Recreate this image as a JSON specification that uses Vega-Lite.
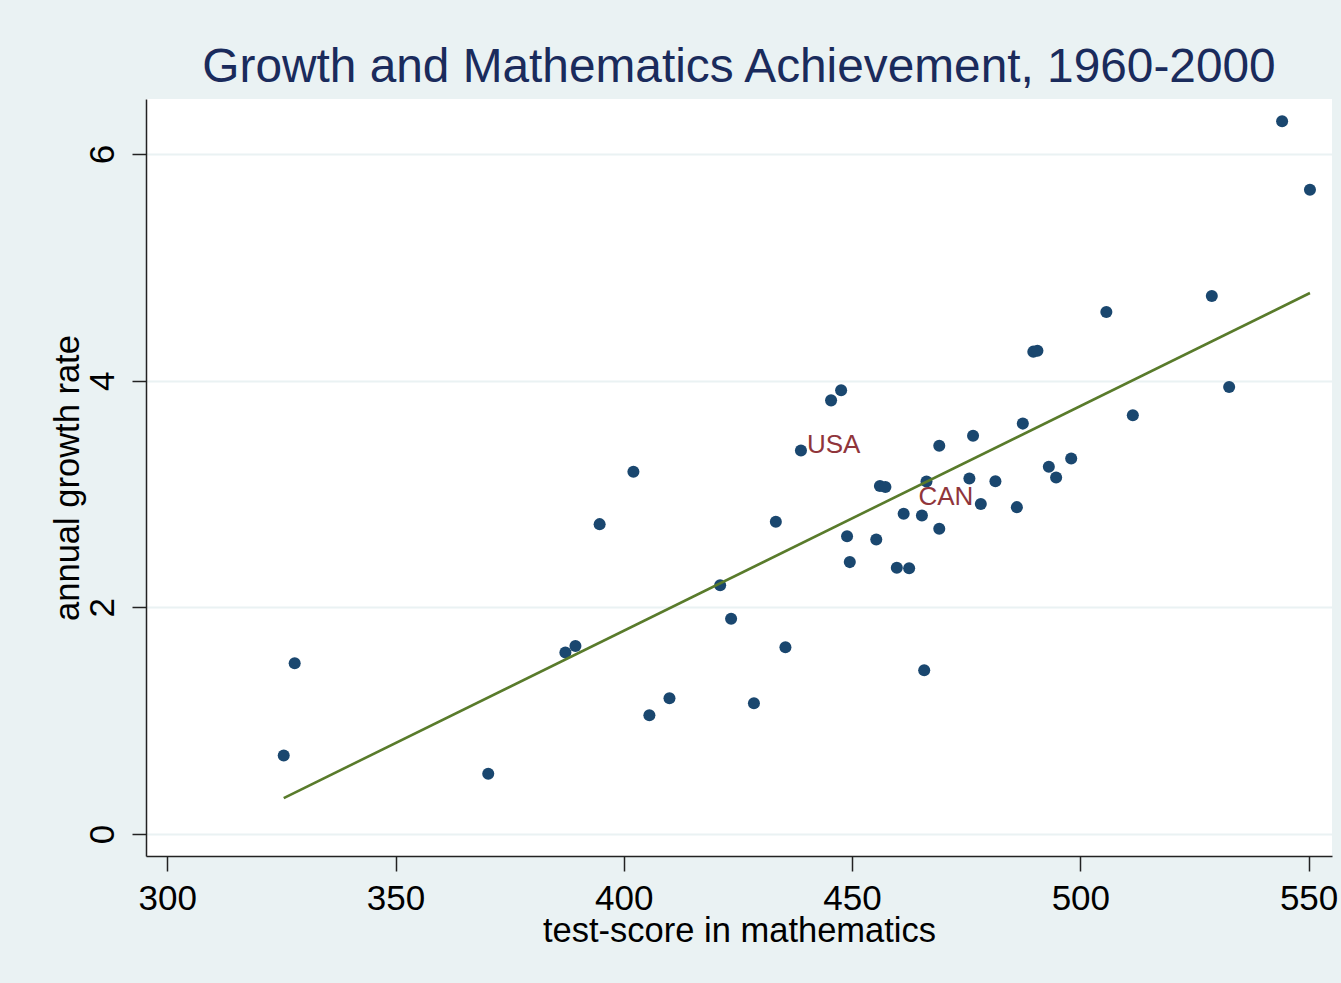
{
  "$schema": "https://vega.github.io/schema/vega-lite/v6.json",
  "width": 1186,
  "height": 757,
  "autosize": {"type": "none"},
  "padding": {"left": 146, "top": 99, "right": 9, "bottom": 127},
  "background": "#eaf2f3",
  "config": {
    "view": {"fill": "white", "stroke": null},
    "font": "Liberation Sans"
  },
  "title": {
    "text": "Growth and Mathematics Achievement, 1960-2000",
    "fontSize": 47.8,
    "fontWeight": "normal",
    "font": "Liberation Sans",
    "color": "#1a2b5c",
    "anchor": "middle",
    "offset": 7
  },
  "datasets": {
    "countries": [
      {"score": 325.5, "growth": 0.693, "country": ""},
      {"score": 327.9, "growth": 1.507, "country": ""},
      {"score": 370.3, "growth": 0.531, "country": ""},
      {"score": 387.2, "growth": 1.601, "country": ""},
      {"score": 389.4, "growth": 1.659, "country": ""},
      {"score": 394.7, "growth": 2.734, "country": ""},
      {"score": 402.1, "growth": 3.196, "country": ""},
      {"score": 405.6, "growth": 1.048, "country": ""},
      {"score": 410.0, "growth": 1.198, "country": ""},
      {"score": 421.1, "growth": 2.194, "country": ""},
      {"score": 423.5, "growth": 1.9, "country": ""},
      {"score": 428.5, "growth": 1.154, "country": ""},
      {"score": 433.3, "growth": 2.755, "country": ""},
      {"score": 435.4, "growth": 1.648, "country": ""},
      {"score": 438.8, "growth": 3.383, "country": "USA"},
      {"score": 445.4, "growth": 3.826, "country": ""},
      {"score": 447.6, "growth": 3.915, "country": ""},
      {"score": 448.9, "growth": 2.628, "country": ""},
      {"score": 449.5, "growth": 2.399, "country": ""},
      {"score": 455.3, "growth": 2.599, "country": ""},
      {"score": 456.1, "growth": 3.07, "country": ""},
      {"score": 457.3, "growth": 3.062, "country": ""},
      {"score": 459.8, "growth": 2.35, "country": ""},
      {"score": 461.3, "growth": 2.826, "country": ""},
      {"score": 462.5, "growth": 2.344, "country": ""},
      {"score": 465.3, "growth": 2.811, "country": ""},
      {"score": 465.8, "growth": 1.445, "country": ""},
      {"score": 466.3, "growth": 3.11, "country": "CAN"},
      {"score": 469.1, "growth": 3.425, "country": ""},
      {"score": 469.1, "growth": 2.693, "country": ""},
      {"score": 475.7, "growth": 3.137, "country": ""},
      {"score": 476.5, "growth": 3.513, "country": ""},
      {"score": 478.2, "growth": 2.912, "country": ""},
      {"score": 481.4, "growth": 3.113, "country": ""},
      {"score": 486.1, "growth": 2.884, "country": ""},
      {"score": 487.4, "growth": 3.621, "country": ""},
      {"score": 489.7, "growth": 4.256, "country": ""},
      {"score": 490.6, "growth": 4.264, "country": ""},
      {"score": 493.1, "growth": 3.24, "country": ""},
      {"score": 494.7, "growth": 3.145, "country": ""},
      {"score": 498.0, "growth": 3.313, "country": ""},
      {"score": 505.7, "growth": 4.605, "country": ""},
      {"score": 511.5, "growth": 3.694, "country": ""},
      {"score": 528.8, "growth": 4.746, "country": ""},
      {"score": 532.6, "growth": 3.944, "country": ""},
      {"score": 544.2, "growth": 6.288, "country": ""},
      {"score": 550.3, "growth": 5.685, "country": ""}
    ],
    "fit": [
      {"score": 325.5, "growth": 0.317},
      {"score": 550.3, "growth": 4.773}
    ]
  },
  "encoding": {
    "x": {
      "field": "score",
      "type": "quantitative",
      "scale": {"domain": [295.33, 555.13], "nice": false, "zero": false},
      "axis": {
        "title": "test-score in mathematics",
        "values": [300, 350, 400, 450, 500, 550],
        "grid": false,
        "tickSize": 15,
        "tickColor": "#222222",
        "tickWidth": 1.5,
        "domainColor": "#222222",
        "domainWidth": 1.5,
        "labelFontSize": 35,
        "labelColor": "#000000",
        "labelPadding": 10,
        "labelFlush": false,
        "titleFontSize": 34.5,
        "titleFontWeight": "normal",
        "titleColor": "#000000",
        "titlePadding": -2
      }
    },
    "y": {
      "field": "growth",
      "type": "quantitative",
      "scale": {"domain": [-0.194, 6.485], "nice": false, "zero": false},
      "axis": {
        "title": "annual growth rate",
        "values": [0, 2, 4, 6],
        "grid": true,
        "gridColor": "#eaf2f3",
        "gridWidth": 2,
        "tickSize": 14,
        "tickColor": "#222222",
        "tickWidth": 1.5,
        "domainColor": "#222222",
        "domainWidth": 1.5,
        "labelAngle": -90,
        "labelAlign": "center",
        "labelBaseline": "bottom",
        "labelFontSize": 35,
        "labelColor": "#000000",
        "labelPadding": 12,
        "titleFontSize": 34.5,
        "titleFontWeight": "normal",
        "titleColor": "#000000",
        "titlePadding": 0
      }
    }
  },
  "layer": [
    {
      "data": {"name": "countries"},
      "mark": {"type": "circle", "size": 145, "opacity": 1, "color": "#1a476f"}
    },
    {
      "data": {"name": "fit"},
      "mark": {"type": "line", "color": "#597b2b", "strokeWidth": 2.6}
    },
    {
      "data": {"name": "countries"},
      "transform": [{"filter": "datum.country === 'USA'"}],
      "mark": {"type": "text", "align": "left", "baseline": "alphabetic", "dx": 6, "dy": 2, "fontSize": 26, "color": "#90353b"},
      "encoding": {"text": {"field": "country"}}
    },
    {
      "data": {"name": "countries"},
      "transform": [{"filter": "datum.country === 'CAN'"}],
      "mark": {"type": "text", "align": "left", "baseline": "alphabetic", "dx": -8, "dy": 23, "fontSize": 26, "color": "#90353b"},
      "encoding": {"text": {"field": "country"}}
    }
  ]
}
